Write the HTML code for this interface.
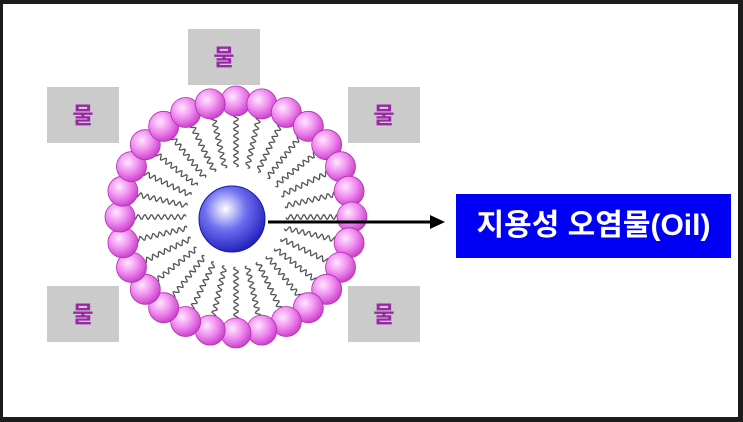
<!DOCTYPE html>
<html><head><meta charset="utf-8"><style>
html,body{margin:0;padding:0;}
body{width:743px;height:422px;overflow:hidden;background:#1c1c1c;position:relative;font-family:"Liberation Sans","Noto Sans CJK KR",sans-serif;}
.page{position:absolute;left:3px;top:4px;width:735px;height:413px;background:#fff;}
.w{position:absolute;width:72px;height:56px;background:#cbcbcb;color:#9b27a8;font-weight:bold;font-size:23px;line-height:56px;text-align:center;}
.lab{position:absolute;left:456px;top:194px;width:275px;height:64px;background:#0000f5;color:#fff;font-weight:bold;font-size:30px;line-height:64px;text-align:center;letter-spacing:0px;}
svg{position:absolute;left:0;top:0;}
</style></head><body>
<div class="page"></div>
<div class="w" style="left:188px;top:29px">물</div>
<div class="w" style="left:47px;top:87px">물</div>
<div class="w" style="left:348px;top:87px">물</div>
<div class="w" style="left:47px;top:286px">물</div>
<div class="w" style="left:348px;top:286px">물</div>
<svg id="s" width="743" height="422" xmlns="http://www.w3.org/2000/svg">
<defs>
<radialGradient id="pg" cx="0.38" cy="0.35" r="0.7"><stop offset="0" stop-color="#ffe6ff"/><stop offset="0.5" stop-color="#f08ef0"/><stop offset="1" stop-color="#c838c8"/></radialGradient>
<radialGradient id="bg" cx="0.4" cy="0.35" r="0.7"><stop offset="0" stop-color="#ffffff"/><stop offset="0.45" stop-color="#6f6ff0"/><stop offset="1" stop-color="#1a1ab8"/></radialGradient>
</defs>
<g id="tails" fill="none" stroke="#555" stroke-width="1.3"></g>
<g id="beads"></g>
<circle cx="232" cy="219" r="33" fill="url(#bg)" stroke="#1818a0" stroke-width="1"/>
<line x1="268" y1="222" x2="432" y2="222" stroke="#000" stroke-width="3"/>
<polygon points="445,222 430,215 430,229" fill="#000"/>
</svg>
<div class="lab">지용성 오염물(Oil)</div>
<script>
var ns="http://www.w3.org/2000/svg",cx=236,cy=217,R=116,N=28;
var t=document.getElementById('tails'),b=document.getElementById('beads');
for(var i=0;i<N;i++){
 var a=i/N*2*Math.PI-Math.PI/2;
 var c=Math.cos(a),s=Math.sin(a);
 var d="";
 for(var r=R-10,k=0;r>=50;r-=1,k++){
  var off=Math.sin(k*0.95)*2.4;
  var x=cx+c*r-s*off,y=cy+s*r+c*off;
  d+=(k?"L":"M")+x.toFixed(1)+","+y.toFixed(1);
 }
 var p=document.createElementNS(ns,"path");p.setAttribute("d",d);t.appendChild(p);
 var ci=document.createElementNS(ns,"circle");
 ci.setAttribute("cx",cx+c*R);ci.setAttribute("cy",cy+s*R);ci.setAttribute("r",15);
 ci.setAttribute("fill","url(#pg)");ci.setAttribute("stroke","#b030b0");ci.setAttribute("stroke-width","0.8");
 b.appendChild(ci);
}
</script>
</body></html>
